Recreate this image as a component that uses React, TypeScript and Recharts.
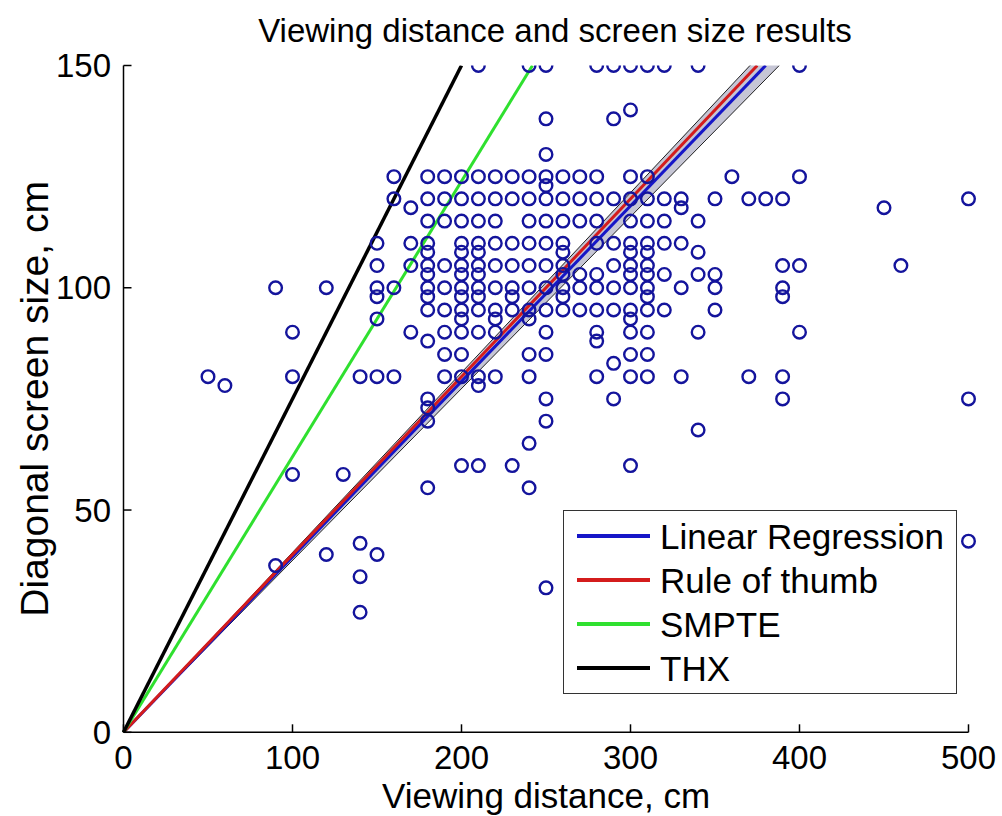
import React from 'react';
import { ComposedChart, XAxis, YAxis, Scatter, Line, Area, Legend } from 'recharts';

const FONT = '"Liberation Sans", Arial, Helvetica, sans-serif';

// diagonal screen size (cm) of each row of answers
const sizeRows = [
  150, 140, 138, 130, 125, 123, 120, 118, 115, 110, 108, 105, 103, 100, 98, 95, 93, 90, 88, 85,
  83, 80, 78, 75, 73, 70, 68, 65, 60, 58, 55, 43, 42.5, 40, 37.5, 35, 32.5, 27,
];

// viewing distances (cm) given for the screen size on the same row
const distanceRows = [
  [210, 240, 250, 280, 290, 300, 310, 320, 340, 400],
  [300],
  [250, 290],
  [250],
  [160, 180, 190, 200, 210, 220, 230, 240, 250, 260, 270, 280, 300, 310, 360, 400],
  [250],
  [160, 180, 190, 200, 210, 220, 230, 240, 250, 260, 270, 280, 290, 300, 310, 320, 330, 350, 370, 380, 390, 500],
  [170, 330, 450],
  [180, 190, 200, 210, 220, 240, 250, 260, 270, 280, 300, 310, 320, 340],
  [150, 170, 180, 200, 210, 220, 230, 240, 250, 260, 280, 290, 300, 310, 320, 330],
  [180, 200, 210, 260, 300, 310, 340],
  [150, 170, 180, 190, 200, 210, 220, 230, 240, 250, 260, 290, 300, 310, 390, 400, 460],
  [180, 200, 210, 260, 270, 280, 300, 310, 320, 340, 350],
  [90, 120, 150, 160, 180, 190, 200, 210, 220, 230, 240, 250, 260, 270, 280, 290, 300, 310, 330, 350, 390],
  [150, 180, 200, 210, 230, 260, 310, 390],
  [180, 190, 200, 210, 220, 230, 240, 250, 260, 270, 280, 290, 300, 310, 320, 350],
  [150, 200, 220, 240, 300],
  [100, 170, 190, 200, 210, 220, 250, 280, 300, 310, 340, 400],
  [180, 280],
  [190, 200, 240, 250, 300, 310],
  [290],
  [50, 100, 140, 150, 160, 190, 200, 210, 220, 240, 280, 300, 310, 330, 370, 390],
  [60, 210],
  [180, 250, 290, 390, 500],
  [180],
  [180, 250],
  [340],
  [240],
  [200, 210, 230, 300],
  [100, 130],
  [180, 240],
  [500],
  [140],
  [120, 150],
  [90],
  [140],
  [250],
  [140],
];

const xTicks = [0, 100, 200, 300, 400, 500];
const yTicks = [0, 50, 100, 150];

// reference lines, as (distance, size) end points
const regressionDist = [0, 380];
const regressionSize = [0, 150];
const ruleDist = [0, 375];
const ruleSize = [0, 150];
const smpteDist = [0, 242];
const smpteSize = [0, 150];
const thxDist = [0, 200];
const thxSize = [0, 150];

// confidence band of the regression
const bandDist = [0, 388];
const bandLow = [0, 150];
const bandHigh = [0, 157];

const seriesNames = ['Linear Regression', 'Rule of thumb', 'SMPTE', 'THX'];
const seriesColors = ['#1616c8', '#d41c1c', '#2fe02f', '#000000'];
const RING = '#14149c';

const points = sizeRows.flatMap((size, i) => distanceRows[i].map((d) => ({ x: d, y: size })));
const toLine = (xs: number[], ys: number[]) => xs.map((x, i) => ({ x, y: ys[i] }));
const bandData = bandDist.map((x, i) => ({ x, range: [bandLow[i], bandHigh[i]] }));

const Ring = (props: any) => (
  <circle cx={props.cx} cy={props.cy} r={6.3} fill="none" stroke={RING} strokeWidth={2.4} />
);

function LegendBox() {
  return (
    <div
      style={{
        border: '1.5px solid #333',
        background: '#fff',
        width: 394,
        height: 184,
        boxSizing: 'border-box',
        paddingTop: 3,
        fontFamily: FONT,
      }}
    >
      {seriesNames.map((name, i) => (
        <div key={name} style={{ display: 'flex', alignItems: 'center', height: 44 }}>
          <span
            style={{
              display: 'inline-block',
              width: 73,
              height: 4,
              marginLeft: 13,
              marginRight: 10,
              background: seriesColors[i],
            }}
          />
          <span style={{ fontSize: 35, color: '#000', lineHeight: 1 }}>{name}</span>
        </div>
      ))}
    </div>
  );
}

const axisStroke = { stroke: '#000', strokeWidth: 1.5 };
const tickStyle = { fill: '#000', fontSize: 33, fontFamily: FONT };

export default function App() {
  return (
    <div style={{ position: 'relative', width: 1002, height: 816 }}>
      <style>{'body { margin: 0; } .recharts-surface { overflow: visible; }'}</style>
      <div
        style={{
          position: 'absolute',
          top: 14,
          left: 155,
          width: 800,
          textAlign: 'center',
          fontFamily: FONT,
          fontSize: 33,
          lineHeight: 1,
          color: '#000',
          zIndex: 1,
        }}
      >
        Viewing distance and screen size results
      </div>
      <ComposedChart width={1002} height={816} margin={{ top: 65.5, right: 33.5, bottom: 0, left: 0 }}>
        <XAxis
          type="number"
          dataKey="x"
          domain={[0, 500]}
          ticks={xTicks}
          height={83.7}
          tickSize={-8}
          tickMargin={21}
          axisLine={axisStroke}
          tickLine={axisStroke}
          tick={tickStyle}
          label={{
            value: 'Viewing distance, cm',
            position: 'insideBottom',
            offset: 8,
            style: { fill: '#000', fontSize: 35, fontFamily: FONT },
          }}
        />
        <YAxis
          type="number"
          domain={[0, 150]}
          ticks={yTicks}
          allowDataOverflow
          width={123.5}
          tickSize={-8}
          tickMargin={20.5}
          axisLine={axisStroke}
          tickLine={axisStroke}
          tick={tickStyle}
          label={{
            value: 'Diagonal screen size, cm',
            angle: -90,
            position: 'insideLeft',
            offset: 34,
            style: { textAnchor: 'middle', fill: '#000', fontSize: 39, fontFamily: FONT },
          }}
        />
        <Scatter data={points} dataKey="y" shape={Ring} isAnimationActive={false} legendType="none" />
        <Area
          data={bandData}
          dataKey="range"
          type="linear"
          stroke="#222"
          strokeWidth={1}
          fill="#c0c0d0"
          fillOpacity={0.9}
          isAnimationActive={false}
          legendType="none"
        />
        <Line
          data={toLine(regressionDist, regressionSize)}
          dataKey="y"
          type="linear"
          stroke={seriesColors[0]}
          strokeWidth={3}
          dot={false}
          isAnimationActive={false}
        />
        <Line
          data={toLine(ruleDist, ruleSize)}
          dataKey="y"
          type="linear"
          stroke={seriesColors[1]}
          strokeWidth={3}
          dot={false}
          isAnimationActive={false}
        />
        <Line
          data={toLine(smpteDist, smpteSize)}
          dataKey="y"
          type="linear"
          stroke={seriesColors[2]}
          strokeWidth={3}
          dot={false}
          isAnimationActive={false}
        />
        <Line
          data={toLine(thxDist, thxSize)}
          dataKey="y"
          type="linear"
          stroke={seriesColors[3]}
          strokeWidth={3.5}
          dot={false}
          isAnimationActive={false}
        />
        <Legend
          layout="vertical"
          align="center"
          verticalAlign="middle"
          wrapperStyle={{ left: 563, top: 510, width: 394, height: 184 }}
          content={() => <LegendBox />}
        />
      </ComposedChart>
    </div>
  );
}
